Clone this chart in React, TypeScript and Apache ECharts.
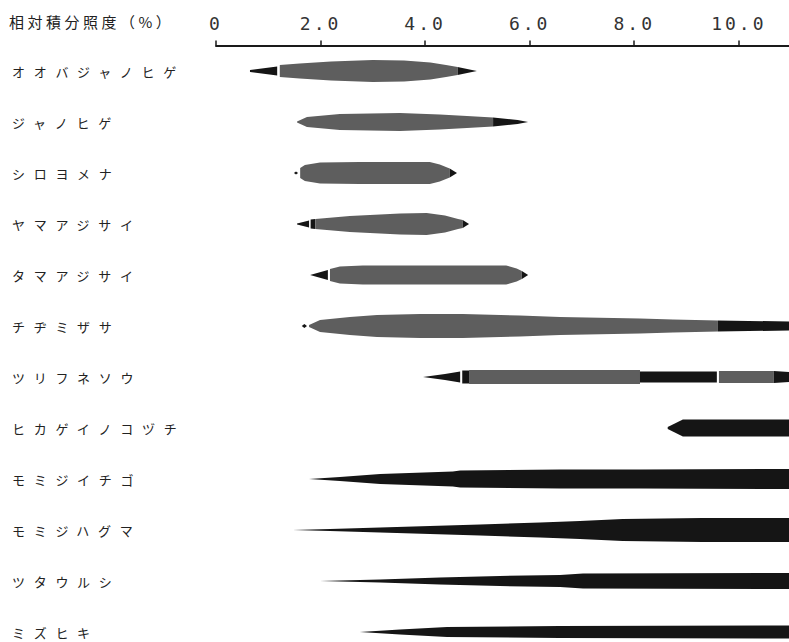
import React, { useEffect, useRef } from 'react';
import * as echarts from 'echarts';

// ---- data ----
const axisTitle = '相対積分照度（%）';
const tickValues = [0, 2, 4, 6, 8, 10];
const species = [
  'オオバジャノヒゲ',
  'ジャノヒゲ',
  'シロヨメナ',
  'ヤマアジサイ',
  'タマアジサイ',
  'チヂミザサ',
  'ツリフネソウ',
  'ヒカゲイノコヅチ',
  'モミジイチゴ',
  'モミジハグマ',
  'ツタウルシ',
  'ミズヒキ',
];

// relative integrated illuminance (%) at profile points of each species
const profileX: number[][] = [
  [0.65, 1.17, 1.22, 1.6, 2.2, 3.0, 3.6, 4.1, 4.4, 4.62, 4.99],
  [1.55, 1.74, 2.37, 3.52, 4.28, 4.8, 5.3, 5.77, 5.97],
  [1.49, 1.53, 1.57, 1.61, 1.7, 1.99, 2.75, 4.09, 4.28, 4.47, 4.61],
  [1.55, 1.78, 1.81, 1.9, 2.56, 3.52, 4.03, 4.38, 4.63, 4.72, 4.84],
  [1.8, 2.14, 2.18, 2.37, 2.81, 5.55, 5.75, 5.85, 5.97],
  [1.64, 1.69, 1.74, 1.78, 1.99, 2.56, 3.08, 3.9, 4.72, 5.81, 6.58, 8.11, 8.74, 9.6, 10.96],
  [3.96, 4.38, 4.67, 4.71, 4.84, 4.84, 8.11, 8.11, 9.58, 9.62, 10.67, 10.96],
  [8.64, 8.93, 10.96],
  [1.78, 2.37, 3.14, 4.53, 4.67, 6.58, 8.11, 10.96],
  [1.47, 2.18, 3.14, 4.09, 5.05, 6.2, 6.96, 7.78, 9.3, 10.96],
  [1.99, 3.14, 4.28, 5.43, 6.58, 7.02, 10.96],
  [2.75, 3.52, 4.42, 6.58, 10.96],
];

// relative band thickness at the same points
const profileW: number[][] = [
  [2, 9, 12, 15, 19, 22, 21, 17, 12, 8, 0],
  [1, 10, 16, 18, 15, 12, 9, 4, 0],
  [0, 3, 0, 10, 16, 21, 22, 22, 17, 9, 0],
  [1, 7, 9, 10, 16, 21, 22, 17, 10, 8, 0],
  [0, 10, 12, 17, 19, 19, 13, 8, 0],
  [0, 4, 0, 2, 12, 18, 22, 24, 24, 21, 18, 15, 13, 11, 9],
  [0, 6, 11, 13, 13, 14, 14, 11, 11, 12, 12, 10],
  [2, 17, 17],
  [0, 4, 10, 15, 17, 19, 19, 20],
  [0, 2, 5, 8, 11, 15, 18, 22, 24, 24],
  [0, 3, 7, 10, 12, 15, 16],
  [0, 5, 10, 12, 13],
];

// tone of each segment between profile points: g = grey, b = black, n = none
const profileTone: string[] = [
  'bngggggggb',
  'ggggggbb',
  'bbnggggggb',
  'bnbggggggb',
  'bngggggb',
  'bbnggggggggggb',
  'bbnbngnbngb',
  'bb',
  'bbbbbbb',
  'bbbbbbbbb',
  'bbbbbb',
  'bbbb',
];

// ---- styles ----
const GREY = '#5e5e5e';
const BLACK = '#151515';
const INK = '#222222';

export default function App() {
  const ref = useRef<HTMLDivElement>(null);

  useEffect(() => {
    if (!ref.current) return;
    const chart = echarts.init(ref.current, undefined, { renderer: 'svg' });

    const option: any = {
      animation: false,
      backgroundColor: '#ffffff',
      title: {
        text: axisTitle,
        left: 9,
        top: 14,
        padding: 0,
        textStyle: {
          fontFamily: '"Noto Sans CJK JP", sans-serif',
          fontSize: 15,
          fontWeight: 'normal',
          color: INK,
        },
      },
      grid: { left: 216, right: 0, top: 45.5, height: 612 },
      xAxis: {
        type: 'value',
        position: 'top',
        min: 0,
        max: 10.96,
        interval: 2,
        splitLine: { show: false },
        axisLine: { show: true, lineStyle: { color: '#1a1a1a', width: 2 } },
        axisTick: {
          show: true,
          customValues: tickValues,
          length: 5,
          lineStyle: { color: '#1a1a1a', width: 1.5 },
        },
        axisLabel: {
          customValues: tickValues,
          margin: 13,
          fontFamily: '"DejaVu Sans Mono", monospace',
          fontSize: 18,
          color: '#333333',
          formatter: (v: number) =>
            tickValues.indexOf(v) < 0 ? '' : v === 0 ? '0' : v.toFixed(1),
        },
      },
      yAxis: {
        type: 'category',
        inverse: true,
        data: species,
        axisLine: { show: false },
        axisTick: { show: false },
        splitLine: { show: false },
        axisLabel: {
          align: 'left',
          margin: 204,
          fontFamily: '"Noto Sans CJK JP", sans-serif',
          fontSize: 13,
          color: INK,
          padding: [6, 0, 0, 0],
        },
      },
      series: [
        {
          type: 'custom',
          clip: true,
          encode: { x: 0, y: 1 },
          data: species.map((_, i) => [0, i]),
          renderItem: (params: any, api: any) => {
            const i = params.dataIndex;
            const xs = profileX[i];
            const ws = profileW[i];
            const tones = profileTone[i];
            const band = api.size([0, 1])[1];
            const k = band / 51;
            const children: any[] = [];
            let j = 0;
            while (j < tones.length) {
              const tone = tones[j];
              let e = j;
              while (e < tones.length && tones[e] === tone) e++;
              if (tone !== 'n') {
                const top: number[][] = [];
                const bot: number[][] = [];
                for (let p = j; p <= e; p++) {
                  const c = api.coord([xs[p], i]);
                  const h = (ws[p] * k) / 2;
                  top.push([c[0], c[1] - h]);
                  bot.push([c[0], c[1] + h]);
                }
                children.push({
                  type: 'polygon',
                  shape: { points: top.concat(bot.reverse()) },
                  style: { fill: tone === 'g' ? GREY : BLACK },
                });
              }
              j = e;
            }
            return { type: 'group', children };
          },
        },
      ],
    };

    chart.setOption(option);

    const applySpacing = () => {
      const root = ref.current;
      if (!root) return;
      root.querySelectorAll('text').forEach((t) => {
        const s = (t.textContent || '').trim();
        if (species.indexOf(s) >= 0) t.setAttribute('letter-spacing', '8.7');
        else if (s === axisTitle) t.setAttribute('letter-spacing', '3.5');
        else t.setAttribute('letter-spacing', '3');
      });
    };
    applySpacing();
    chart.on('finished', applySpacing);

    return () => {
      chart.dispose();
    };
  }, []);

  return (
    <div
      ref={ref}
      style={{ position: 'fixed', left: 0, top: 0, width: 789, height: 680, background: '#fff' }}
    />
  );
}
